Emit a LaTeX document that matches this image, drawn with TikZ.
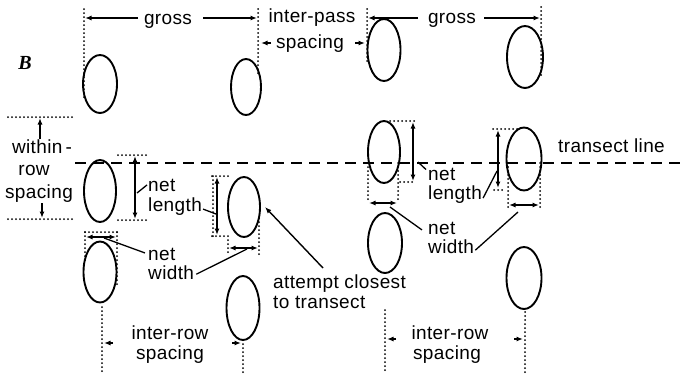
\documentclass[tikz,border=0pt]{standalone}
\usepackage{fontspec}
\setmainfont{Liberation Sans}[LetterSpace=2]
\newfontfamily\markfont{Liberation Serif}
\usetikzlibrary{arrows.meta,shapes.geometric}
\begin{document}
\begin{tikzpicture}[x=1pt,y=-1pt,
  plant/.style={draw,ellipse,line width=1.9pt,inner sep=0pt,outer sep=0pt},
  dotline/.style={line width=2pt,line cap=round,dash pattern=on 0pt off 4pt},
  tip/.tip={Latex[length=6.5pt,width=5pt]},
  dimarrow/.style={line width=1.5pt,tip-tip},
  onearrow/.style={line width=1.4pt,-tip},
  leader/.style={line width=1.3pt},
  transect/.style={line width=2pt,dash pattern=on 11pt off 7pt},
  lbl/.style={font=\fontsize{19}{21}\selectfont,inner sep=0pt},
]
\useasboundingbox (0,0) rectangle (684,373);

% ---- plants, left pass
\node[plant,minimum width=34pt,minimum height=58pt] (a1) at (100,84) {};
\node[plant,minimum width=30pt,minimum height=56pt] (a2) at (246,87) {};
\node[plant,minimum width=32pt,minimum height=62pt] (a3) at (100,191) {};
\node[plant,minimum width=32pt,minimum height=60pt] (a4) at (244,207) {};
\node[plant,minimum width=33pt,minimum height=61pt] (a5) at (100,272) {};
\node[plant,minimum width=33pt,minimum height=64pt] (a6) at (243,308) {};
% ---- plants, right pass
\node[plant,minimum width=33pt,minimum height=62pt] (b1) at (384,50) {};
\node[plant,minimum width=36pt,minimum height=62pt] (b2) at (525,57) {};
\node[plant,minimum width=32pt,minimum height=62pt] (b3) at (384,152) {};
\node[plant,minimum width=35pt,minimum height=63pt] (b4) at (524,159) {};
\node[plant,minimum width=34pt,minimum height=60pt] (b5) at (385,243) {};
\node[plant,minimum width=35pt,minimum height=62pt] (b6) at (524,278) {};

% ---- transect line
\coordinate (tA) at (75,163);
\coordinate (tB) at (684,163);
\draw[transect] (tA) -- (tB);
\node[lbl,anchor=base west] (tlabel) at (558,152) {transect line};

% ---- margin mark
\node[font=\markfont\fontsize{20}{20}\selectfont\bfseries\itshape,inner sep=0pt] (mark) at (25,63) {B};

% ---- gross, left pass
\draw[dotline] (84,9) -- (84,100);
\draw[dotline] (258,9) -- (258,74);
\node[lbl,anchor=base] (gross1) at (168,24) {gross};
\coordinate (g1a) at (138,18);  \coordinate (g1L) at (85,18);
\coordinate (g1b) at (203,18);  \coordinate (g1R) at (257,18);
\draw[onearrow] (g1a) -- (g1L);
\draw[onearrow] (g1b) -- (g1R);

% ---- inter-pass spacing
\node[lbl,anchor=base] (ip1) at (312,22) {inter-pass};
\node[lbl,anchor=base] (ip2) at (310,48) {spacing};
\coordinate (ipa) at (271,43);  \coordinate (ipL) at (261,43);
\coordinate (ipb) at (355,43);  \coordinate (ipR) at (365,43);
\draw[onearrow] (ipa) -- (ipL);
\draw[onearrow] (ipb) -- (ipR);

% ---- gross, right pass
\draw[dotline] (367,9) -- (367,64);
\draw[dotline] (541,7) -- (541,76);
\node[lbl,anchor=base] (gross2) at (452,23) {gross};
\coordinate (g2a) at (418,18);  \coordinate (g2L) at (368,18);
\coordinate (g2b) at (484,18);  \coordinate (g2R) at (540,18);
\draw[onearrow] (g2a) -- (g2L);
\draw[onearrow] (g2b) -- (g2R);

% ---- within-row spacing
\draw[dotline] (8,117) -- (75,117);
\draw[dotline] (8,219) -- (75,219);
\node[lbl,anchor=base] (wr1) at (42,153) {within\,-};
\node[lbl,anchor=base] (wr2) at (34,175) {row};
\node[lbl,anchor=base] (wr3) at (39,198) {spacing};
\coordinate (wra) at (40,139);  \coordinate (wrT) at (40,118);
\coordinate (wrb) at (42,203);  \coordinate (wrB) at (42,218);
\draw[onearrow] (wra) -- (wrT);
\draw[onearrow] (wrb) -- (wrB);

% ---- net length of a3
\draw[dotline] (118,155) -- (147,155);
\draw[dotline] (118,220) -- (147,220);
\coordinate (l3T) at (135,156);  \coordinate (l3B) at (135,219);
\draw[dimarrow] (l3T) -- (l3B);
\node[lbl,anchor=base west] (nl1) at (148,191) {net};
\node[lbl,anchor=base west] (nl2) at (148,211) {length};
\coordinate (l3m) at (137,193);
\draw[leader] (l3m) -- ([xshift=-1pt]nl1.west);

% ---- net width of a5
\draw[dotline] (85,232) -- (117,232);
\draw[dotline] (85,232) -- (85,262);
\draw[dotline] (117,232) -- (117,286);
\coordinate (w5L) at (86,237);  \coordinate (w5R) at (116,237);
\draw[dimarrow] (w5L) -- (w5R);
\node[lbl,anchor=base west] (nw1) at (148,260) {net};
\node[lbl,anchor=base west] (nw2) at (148,279) {width};
\coordinate (w5m) at (104,238);
\draw[leader] (w5m) -- ([xshift=-3pt,yshift=1pt]nw1.west);

% ---- net length of a4
\draw[dotline] (212,176) -- (229,176);
\draw[dotline] (213,176) -- (213,236);
\draw[dotline] (212,236) -- (230,236);
\coordinate (l4T) at (217,177);  \coordinate (l4B) at (217,235);
\draw[dimarrow] (l4T) -- (l4B);
\coordinate (l4m) at (216,214);
\draw[leader] ([xshift=1pt,yshift=-3pt]nl2.east) -- (l4m);

% ---- net width of a4
\draw[dotline] (228,240) -- (228,255);
\draw[dotline] (259,218) -- (259,255);
\coordinate (w4L) at (229,248);  \coordinate (w4R) at (258,248);
\draw[dimarrow] (w4L) -- (w4R);
\coordinate (w4m) at (247,249);
\draw[leader] ([xshift=2pt,yshift=-2pt]nw2.east) -- (w4m);

% ---- closest-to-transect note
\node[lbl,anchor=base west] (ac1) at (273,288) {attempt closest};
\node[lbl,anchor=base west] (ac2) at (273,308) {to transect};
\coordinate (acs) at (323,268);
\coordinate (ace) at (265,207);
\draw[onearrow] (acs) -- (ace);

% ---- net length of b3
\draw[dotline] (390,121) -- (415,121);
\draw[dotline] (400,182) -- (415,182);
\coordinate (l7T) at (413,122);  \coordinate (l7B) at (413,181);
\draw[dimarrow] (l7T) -- (l7B);
\node[lbl,anchor=base west] (nr1) at (428,180) {net};
\node[lbl,anchor=base west] (nr2) at (428,199) {length};
\coordinate (l7m) at (418,162);
\draw[leader] (l7m) -- ([xshift=-2pt,yshift=-2pt]nr1.north west);

% ---- net width of b3
\draw[dotline] (368,163) -- (368,202);
\draw[dotline] (398,163) -- (398,202);
\coordinate (w7L) at (369,203);  \coordinate (w7R) at (397,203);
\draw[dimarrow] (w7L) -- (w7R);
\node[lbl,anchor=base west] (nq1) at (428,234) {net};
\node[lbl,anchor=base west] (nq2) at (428,253) {width};
\coordinate (w7m) at (390,207);
\draw[leader] (w7m) -- ([xshift=-6pt,yshift=-2pt]nq1.west);

% ---- net length of b4
\draw[dotline] (493,129) -- (517,129);
\draw[dotline] (494,190) -- (503,190);
\coordinate (l8T) at (498,130);  \coordinate (l8B) at (498,188);
\draw[dimarrow] (l8T) -- (l8B);
\coordinate (l8m) at (497,171);
\draw[leader] ([xshift=1pt,yshift=-4pt]nr2.east) -- (l8m);

% ---- net width of b4
\draw[dotline] (508,163) -- (508,207);
\draw[dotline] (540,163) -- (540,207);
\coordinate (w8L) at (509,205);  \coordinate (w8R) at (539,205);
\draw[dimarrow] (w8L) -- (w8R);
\coordinate (w8m) at (518,212);
\draw[leader] ([xshift=1pt,yshift=-4pt]nq2.east) -- (w8m);

% ---- inter-row spacing, left pass
\draw[dotline] (102,307) -- (102,373);
\draw[dotline] (243,340) -- (243,373);
\node[lbl,anchor=base] (ir1) at (170,339) {inter-row};
\node[lbl,anchor=base] (ir2) at (170,359) {spacing};
\coordinate (ir1a) at (113,343);  \coordinate (ir1L) at (104,343);
\coordinate (ir1b) at (232,343);  \coordinate (ir1R) at (241,343);
\draw[onearrow] (ir1a) -- (ir1L);
\draw[onearrow] (ir1b) -- (ir1R);

% ---- inter-row spacing, right pass
\draw[dotline] (385,310) -- (385,373);
\draw[dotline] (525,312) -- (525,373);
\node[lbl,anchor=base] (ir3) at (450,339) {inter-row};
\node[lbl,anchor=base] (ir4) at (447,359) {spacing};
\coordinate (ir2a) at (396,339);  \coordinate (ir2L) at (387,339);
\coordinate (ir2b) at (514,339);  \coordinate (ir2R) at (523,339);
\draw[onearrow] (ir2a) -- (ir2L);
\draw[onearrow] (ir2b) -- (ir2R);
\end{tikzpicture}
\end{document}
